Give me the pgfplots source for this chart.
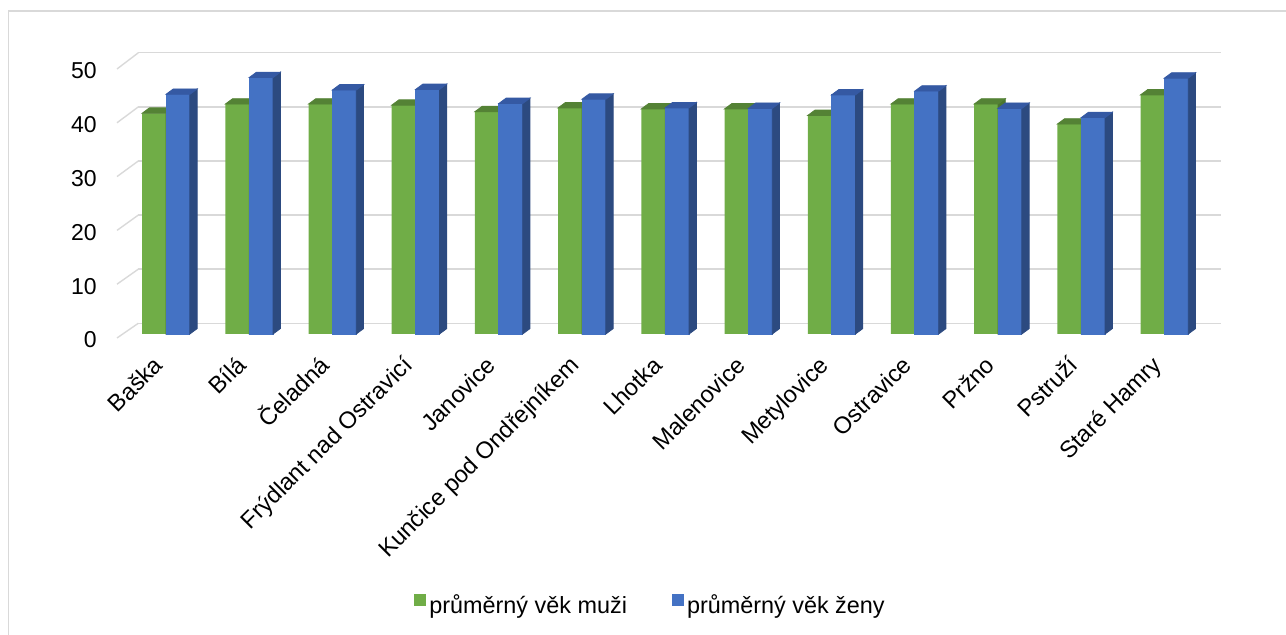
\documentclass[border=0pt]{standalone}
\usepackage{pgfplots}
\usepackage{pgfplotstable}
\pgfplotsset{compat=1.18}
\usepackage{fontspec}
\setmainfont{Liberation Sans}
\definecolor{gfront}{HTML}{70AD47}
\definecolor{gtop}{HTML}{548235}
\definecolor{gside}{HTML}{4A7530}
\definecolor{bfront}{HTML}{4472C4}
\definecolor{btop}{HTML}{3559A3}
\definecolor{bside}{HTML}{2C4A80}
\definecolor{gridc}{HTML}{D9D9D9}
\newcommand{\lab}{\fontsize{11.5}{13.8}\selectfont}
\newcommand{\xlab}{\fontsize{11.8}{14.2}\selectfont}
\newcommand{\leglab}{\fontsize{11.7}{14}\selectfont}
\pgfdeclareplotmark{nothing}{}

\pgfplotstableread{
x m
0 40.8
1 42.5
2 42.5
3 42.3
4 41.1
5 41.8
6 41.6
7 41.6
8 40.4
9 42.5
10 42.5
11 38.8
12 44.2
}\muzi
\pgfplotstableread{
x z
0 44.3
1 47.4
2 45.1
3 45.2
4 42.6
5 43.4
6 41.8
7 41.7
8 44.2
9 44.9
10 41.7
11 40.0
12 47.3
}\zeny

\begin{document}
\begin{tikzpicture}
\useasboundingbox (0,0) rectangle (643pt,317.5pt);
\draw[gridc, line width=0.85pt] (4.25pt,0pt) -- (4.25pt,312pt) -- (643pt,312pt);

% back wall gridlines
\begin{axis}[at={(69.15pt,155.85pt)}, anchor=south west, scale only axis,
  width=541.35pt, height=135.25pt, xmin=0, xmax=1, ymin=0, ymax=50,
  ytick={0,10,...,50}, xtick=\empty, yticklabels={}, ymajorgrids,
  grid style={gridc, line width=0.7pt}, axis line style={draw=none},
  major tick length=0pt]
\end{axis}

\foreach \v in {0,10,...,50}{
  \draw[gridc, line width=0.7pt] (58.5pt,{148.5pt+\v*2.69pt}) -- (69.15pt,{155.85pt+\v*2.705pt});
}

% front tick labels
\begin{axis}[at={(58.5pt,147.5pt)}, anchor=south west, scale only axis,
  width=10pt, height=134.5pt, xmin=0, xmax=1, ymin=0, ymax=50,
  ytick={0,10,...,50}, xtick=\empty, axis line style={draw=none},
  major tick length=0pt,
  yticklabel style={font=\lab, inner sep=0pt, anchor=east, xshift=-10pt},
  /pgf/number format/assume math mode=true]
\end{axis}

% bars
\begin{axis}[at={(62.2pt,150.5pt)}, anchor=south west, scale only axis,
  width=540.8pt, height=135.25pt, xmin=-0.5, xmax=12.5, ymin=0, ymax=50,
  axis line style={draw=none}, major tick length=0pt, ytick=\empty,
  xtick={0,...,12},
  xticklabels={Baška,Bílá,Čeladná,Frýdlant nad Ostravicí,Janovice,Kunčice pod Ondřejníkem,Lhotka,Malenovice,Metylovice,Ostravice,Pržno,Pstruží,Staré Hamry},
  xticklabel style={font=\xlab, xshift=-2.5pt, rotate=45, anchor=east, inner sep=0pt, text height=0.75em, text depth=0.25em},
  xticklabel shift=14.5pt,
  clip=false,
  legend columns=2,
  legend style={at={(0.4869,-1.0055)}, anchor=center, draw=none, fill=none, font=\leglab,
    nodes={inner sep=1.5pt},
    /tikz/every even column/.append style={column sep=21pt}},
  legend image code/.code={\fill[#1] (0pt,0pt) rectangle (6pt,6pt);}
]
\addplot[ybar, bar width=0.2867, bar shift=-0.14335, fill=gfront, draw=none] table[x=x,y=m]{\muzi};
\addlegendentry{průměrný věk muži}
\addplot[forget plot, scatter, only marks, mark=nothing,
  visualization depends on={rawy \as \rawy},
  scatter/@pre marker code/.code={
    \fill[gside] (0pt,0pt) -- (3.65pt,2.7pt) -- (3.65pt,{2.7pt-\rawy*2.705pt}) -- (0pt,{-\rawy*2.705pt}) -- cycle;
    \fill[gtop] (-11.93pt,0pt) -- (0pt,0pt) -- (3.65pt,2.7pt) -- (-8.28pt,2.7pt) -- cycle;
  },
  scatter/@post marker code/.code={}
] table[x=x,y=m]{\muzi};
\addplot[ybar, bar width=0.2867, bar shift=0.14335, fill=bfront, draw=none] table[x=x,y=z]{\zeny};
\addlegendentry{průměrný věk ženy}
\addplot[forget plot, scatter, only marks, mark=nothing,
  visualization depends on={rawy \as \rawy},
  scatter/@pre marker code/.code={
    \fill[bfront] (0pt,0pt) rectangle (11.93pt,{-\rawy*2.705pt});
    \fill[bside] (11.93pt,0pt) -- (15.58pt,2.7pt) -- (15.58pt,{2.7pt-\rawy*2.705pt}) -- (11.93pt,{-\rawy*2.705pt}) -- cycle;
    \fill[btop] (0pt,0pt) -- (11.93pt,0pt) -- (15.58pt,2.7pt) -- (3.65pt,2.7pt) -- cycle;
  },
  scatter/@post marker code/.code={}
] table[x=x,y=z]{\zeny};
\end{axis}
\end{tikzpicture}
\end{document}
